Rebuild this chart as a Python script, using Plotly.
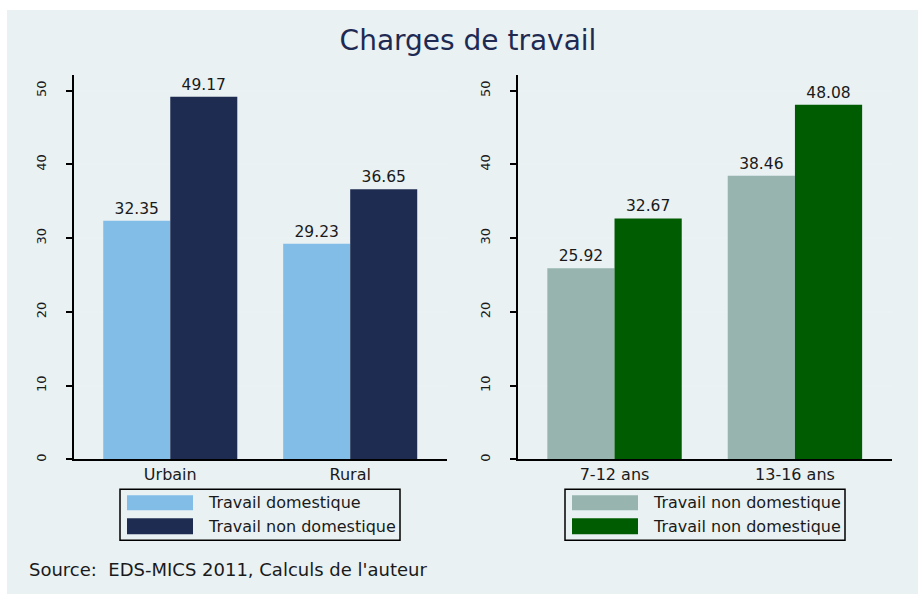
import plotly.graph_objects as go
from plotly.subplots import make_subplots

# ---- data ----
title_text = "Charges de travail"
source_text = "Source:\u00a0 EDS-MICS 2011, Calculs de l'auteur"

left_categories = ["Urbain", "Rural"]
left_series_names = ["Travail domestique", "Travail non domestique"]
left_domestique = [32.35, 29.23]
left_non_domestique = [49.17, 36.65]

right_categories = ["7-12 ans", "13-16 ans"]
right_series_names = ["Travail non domestique", "Travail non domestique"]
right_series1 = [25.92, 38.46]
right_series2 = [32.67, 48.08]

y_tickvals = [0, 10, 20, 30, 40, 50]

# ---- style ----
W, H = 918, 596
FONT = "DejaVu Sans"
BG = "#E9F1F3"
GRID = "#EAF2F3"
C_LTBLUE = "#82BDE8"
C_NAVY = "#1F2C52"
C_GREYGREEN = "#97B4AE"
C_GREEN = "#005C00"
TEXT = "#1a1a1a"


def px(x):
    return x / W


def py(y):
    return 1 - y / H


fig = make_subplots(rows=1, cols=2)

fig.add_trace(go.Bar(x=left_categories, y=left_domestique, name=left_series_names[0],
                     marker_color=C_LTBLUE, text=[f"{v:.2f}" for v in left_domestique],
                     textposition="outside", showlegend=False), row=1, col=1)
fig.add_trace(go.Bar(x=left_categories, y=left_non_domestique, name=left_series_names[1],
                     marker_color=C_NAVY, text=[f"{v:.2f}" for v in left_non_domestique],
                     textposition="outside", showlegend=False), row=1, col=1)
fig.add_trace(go.Bar(x=right_categories, y=right_series1, name=right_series_names[0],
                     marker_color=C_GREYGREEN, text=[f"{v:.2f}" for v in right_series1],
                     textposition="outside", showlegend=False), row=1, col=2)
fig.add_trace(go.Bar(x=right_categories, y=right_series2, name=right_series_names[1],
                     marker_color=C_GREEN, text=[f"{v:.2f}" for v in right_series2],
                     textposition="outside", showlegend=False), row=1, col=2)

fig.update_traces(textfont=dict(family=FONT, size=15.5, color=TEXT), cliponaxis=False,
                  marker_line_width=0)

ydom = [py(461), py(75)]
fig.update_layout(
    xaxis=dict(domain=[px(74), px(447)]),
    xaxis2=dict(domain=[px(518), px(892)]),
    yaxis=dict(domain=ydom),
    yaxis2=dict(domain=ydom),
)

for i in (1, 2):
    fig.update_xaxes(row=1, col=i, range=[-0.535, 1.538], showline=True, linecolor="black",
                     linewidth=1.5, ticks="", showgrid=False,
                     tickfont=dict(family=FONT, size=16, color=TEXT))
    fig.update_yaxes(row=1, col=i, range=[0, 52.16], tickvals=y_tickvals, showline=True,
                     linecolor="black", linewidth=1.5, ticks="outside", ticklen=6,
                     tickcolor="black", tickwidth=1.5, tickangle=-90, ticklabelstandoff=15,
                     showgrid=True, gridcolor=GRID, gridwidth=1.5, zeroline=False,
                     tickfont=dict(family=FONT, size=13, color=TEXT))

shapes = [dict(type="rect", xref="paper", yref="paper", x0=px(7), x1=1, y0=0, y1=py(10),
               fillcolor=BG, line_width=0, layer="below")]
annotations = []


def add_legend(x0, x1, names, colors):
    shapes.append(dict(type="rect", xref="paper", yref="paper", x0=px(x0), x1=px(x1),
                       y0=py(542), y1=py(491), line=dict(color="black", width=1.5),
                       fillcolor=BG))
    for k, (nm, col) in enumerate(zip(names, colors)):
        yt, yb = (497, 512) if k == 0 else (520, 536)
        shapes.append(dict(type="rect", xref="paper", yref="paper", x0=px(x0 + 7),
                           x1=px(x0 + 73), y0=py(yb), y1=py(yt), fillcolor=col,
                           line_width=0))
        annotations.append(dict(xref="paper", yref="paper", x=px(x0 + 86),
                                y=py((yt + yb) / 2), text=nm, showarrow=False,
                                xanchor="left", yanchor="middle",
                                font=dict(family=FONT, size=16, color=TEXT)))


add_legend(120, 400, left_series_names, [C_LTBLUE, C_NAVY])
add_legend(565, 845, right_series_names, [C_GREYGREEN, C_GREEN])

annotations.append(dict(xref="paper", yref="paper", x=px(27), y=py(571), text=source_text,
                        showarrow=False, xanchor="left", yanchor="middle",
                        font=dict(family=FONT, size=18, color=TEXT)))

fig.update_layout(
    width=W, height=H,
    margin=dict(l=0, r=0, t=0, b=0),
    paper_bgcolor="white", plot_bgcolor="white",
    barmode="group", bargap=0.255, bargroupgap=0,
    title=dict(text=title_text, x=px(468), y=py(40), xanchor="center", yanchor="middle",
               font=dict(family=FONT, size=28, color="#1E2A52")),
    shapes=shapes, annotations=annotations,
    showlegend=False,
)

fig.write_html(
    "out.html",
    config={"displayModeBar": False},
    post_script="document.body.style.margin='0';document.body.style.overflow='hidden';",
)
